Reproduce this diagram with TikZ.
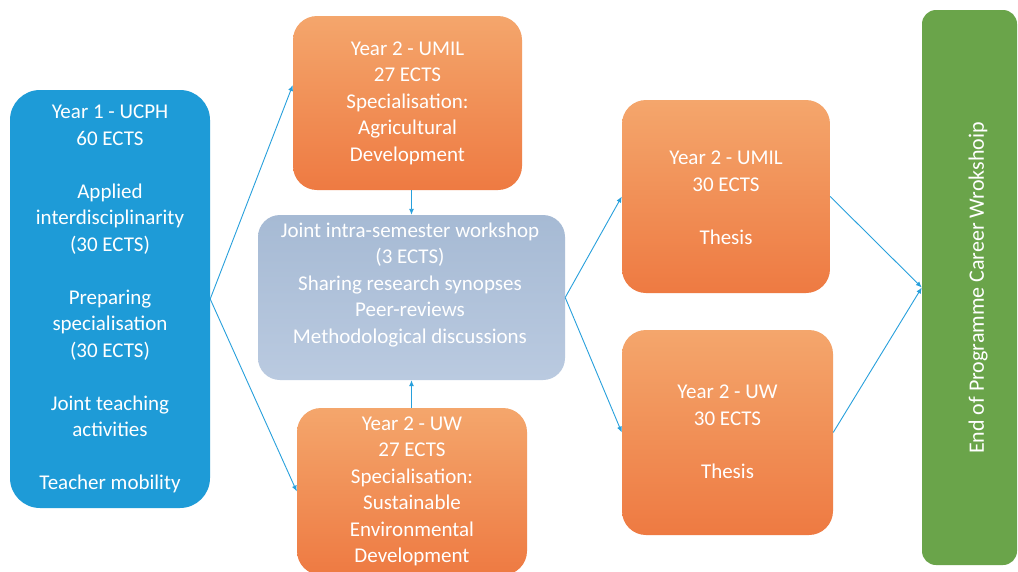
\documentclass[tikz,border=0pt]{standalone}
\usepackage{fontspec}
\setmainfont{Carlito}
\usetikzlibrary{arrows.meta,calc}
\definecolor{ublue}{RGB}{30,155,215}
\definecolor{otop}{RGB}{244,166,108}
\definecolor{obot}{RGB}{238,122,66}
\definecolor{gtop}{RGB}{166,186,212}
\definecolor{gbot}{RGB}{186,202,224}
\definecolor{ugreen}{RGB}{106,164,74}
\definecolor{lineblue}{RGB}{40,160,220}
\begin{document}
\begin{tikzpicture}[x=1pt,y=-1pt,
  box/.style={rectangle, inner sep=0pt, draw=none},
  bluebox/.style={box, fill=ublue, rounded corners=30pt},
  orangebox/.style={box, top color=otop, bottom color=obot, rounded corners=24pt},
  midbox/.style={box, top color=gtop, bottom color=gbot, rounded corners=22pt},
  greenbox/.style={box, fill=ugreen, rounded corners=14pt},
  txt/.style={text=white, align=center, inner sep=0pt, font=\fontsize{21}{26.5}\selectfont},
  conn/.style={draw=lineblue, line width=0.9pt, -{Latex[length=6pt,width=5pt]}}
]
\useasboundingbox (0,0) rectangle (1018,571);
\clip (0,0) rectangle (1018,571);
\fill[white] (0,0) rectangle (1018,571);

% boxes
\node[bluebox, minimum width=200pt, minimum height=418pt] (y1) at (110,299) {};
\node[orangebox, minimum width=229pt, minimum height=174pt] (u1) at (407.5,103) {};
\node[midbox, minimum width=307pt, minimum height=165pt] (mid) at (411.5,297.5) {};
\node[orangebox, minimum width=230pt, minimum height=167pt] (w1) at (412,491.5) {};
\node[orangebox, minimum width=208pt, minimum height=193pt] (r1) at (726,196.5) {};
\node[orangebox, minimum width=211pt, minimum height=205pt] (r2) at (727.5,432.5) {};
\node[greenbox, minimum width=95pt, minimum height=555pt] (g) at (969.5,287.5) {};

% texts
\node[txt] (y1t) at (110,299) {Year 1 - UCPH\\60 ECTS\\[26.5pt]Applied\\interdisciplinarity\\(30 ECTS)\\[26.5pt]Preparing\\specialisation\\(30 ECTS)\\[26.5pt]Joint teaching\\activities\\[26.5pt]Teacher mobility};
\node[txt] (u1t) at (407.5,103) {Year 2 - UMIL\\27 ECTS\\Specialisation:\\Agricultural\\Development};
\node[txt] (midt) at (410,285) {Joint intra-semester workshop\\(3 ECTS)\\Sharing research synopses\\Peer-reviews\\Methodological discussions};
\node[txt] (w1t) at (412,491.5) {Year 2 - UW\\27 ECTS\\Specialisation:\\Sustainable\\Environmental\\Development};
\node[txt] (r1t) at (726,198) {Year 2 - UMIL\\30 ECTS\\[26.5pt]Thesis};
\node[txt] (r2t) at (727.5,432) {Year 2 - UW\\30 ECTS\\[26.5pt]Thesis};
\node[txt, rotate=90, font=\fontsize{22}{26.5}\selectfont] (gt) at (978,288) {End of Programme Career Wrokshoip};

% connectors
\draw[conn] (y1.east) -- ([yshift=18pt]u1.west);
\draw[conn] (y1.east) -- (w1.west);
\draw[conn] (mid.north |- u1.south) -- (mid.north);
\draw[conn] (mid.south |- w1.north) -- (mid.south);
\draw[conn] (mid.east) -- (r1.west);
\draw[conn] (mid.east) -- (r2.west);
\draw[conn] (r1.east) -- (g.west);
\draw[conn] (r2.east) -- (g.west);
\end{tikzpicture}
\end{document}
